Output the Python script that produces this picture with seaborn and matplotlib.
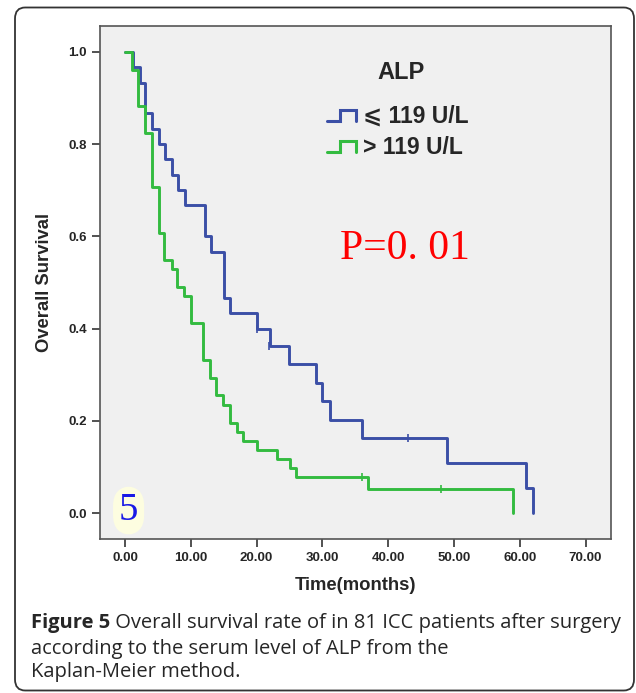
import numpy as np
import pandas as pd
import matplotlib
matplotlib.use("Agg")
import matplotlib.pyplot as plt
import seaborn as sns
from matplotlib.lines import Line2D
from matplotlib.legend_handler import HandlerBase
from matplotlib.patches import FancyBboxPatch

# Kaplan-Meier steps: time of each drop (months) and survival after it
low_time = [0, 1.2, 2.3, 3.1, 4.1, 5.1, 6.1, 7.1, 8.1, 9.1, 12.2, 13.1, 15.1, 16.0,
            20.1, 22.0, 24.9, 29.0, 30.0, 31.1, 36.0, 49.0, 61.0, 62.0]
low_surv = [1.0, 0.967, 0.933, 0.867, 0.833, 0.800, 0.767, 0.733, 0.700, 0.667, 0.600, 0.567,
            0.467, 0.433, 0.400, 0.363, 0.323, 0.283, 0.242, 0.202, 0.163, 0.109, 0.054, 0.0]
high_time = [0, 1.1, 2.0, 3.0, 4.1, 5.1, 5.9, 7.1, 7.9, 8.9, 10.0, 11.9, 12.9, 13.9, 14.9,
             16.0, 17.1, 18.0, 20.1, 23.1, 25.1, 26.0, 37.0, 59.0]
high_surv = [1.0, 0.961, 0.882, 0.824, 0.706, 0.608, 0.549, 0.529, 0.490, 0.471, 0.412, 0.333,
             0.294, 0.255, 0.235, 0.196, 0.176, 0.157, 0.137, 0.118, 0.098, 0.078, 0.052, 0.0]

# censored cases
low_cens_time = [20.0, 21.9, 43.0]
low_cens_surv = [0.400, 0.363, 0.163]
high_cens_time = [36.1, 48.0]
high_cens_surv = [0.078, 0.052]

groups = ["\u2a7d 119 U/L", "> 119 U/L"]
colors = ["#3b4fa6", "#33bb40"]
x_ticks = [0, 10, 20, 30, 40, 50, 60, 70]
y_ticks = [0.0, 0.2, 0.4, 0.6, 0.8, 1.0]

sns.set_style("ticks")
plt.rcParams["font.family"] = ["Liberation Sans", "DejaVu Sans"]

curves = pd.concat([
    pd.DataFrame({"time": low_time, "surv": low_surv, "group": groups[0]}),
    pd.DataFrame({"time": high_time, "surv": high_surv, "group": groups[1]}),
])
cens = pd.concat([
    pd.DataFrame({"time": low_cens_time, "surv": low_cens_surv, "group": groups[0]}),
    pd.DataFrame({"time": high_cens_time, "surv": high_cens_surv, "group": groups[1]}),
])
palette = dict(zip(groups, colors))


class StepHandler(HandlerBase):
    # legend key drawn as a little step, like the SPSS output
    def create_artists(self, legend, orig_handle, xdescent, ydescent, width, height, fontsize, trans):
        x0, y0 = -xdescent, -ydescent
        lo, hi = y0 + 0.1 * height, y0 + 0.8 * height
        xs = [x0, x0 + 0.45 * width, x0 + 0.45 * width, x0 + width, x0 + width]
        ys = [lo, lo, hi, hi, lo]
        ln = Line2D(xs, ys, color=orig_handle.get_color(), lw=2.2, solid_joinstyle="miter")
        ln.set_transform(trans)
        return [ln]


fig = plt.figure(figsize=(6.36, 6.93), dpi=100)
ax = fig.add_axes([100 / 636, 1 - 538.5 / 693, 510.5 / 636, 512.5 / 693])
ax.set_facecolor("#f0f0f0")

sns.lineplot(data=curves, x="time", y="surv", hue="group", palette=palette, estimator=None,
             drawstyle="steps-post", linewidth=2.1, legend=False, ax=ax)
sns.scatterplot(data=cens, x="time", y="surv", hue="group", palette=palette, marker="|",
                s=35, linewidth=1.2, legend=False, ax=ax)

ax.set_xlim(-3.8, 73.8)
ax.set_ylim(-0.055, 1.056)
ax.set_xticks(x_ticks)
ax.set_xticklabels([f"{t:.2f}" for t in x_ticks])
ax.set_yticks(y_ticks)
ax.set_yticklabels([f"{v:.1f}" for v in y_ticks])
ax.tick_params(direction="out", length=6, width=1.2, color="#333333", labelsize=9.5, pad=3.5)
for lab in ax.get_xticklabels() + ax.get_yticklabels():
    lab.set_fontweight("bold")
for sp in ax.spines.values():
    sp.set_visible(True)
    sp.set_color("#555555")
    sp.set_linewidth(1.2)

ax.set_xlabel("Time(months)", fontsize=13.3, fontweight="bold")
ax.set_ylabel("Overall Survival", fontsize=13.3, fontweight="bold")
ax.xaxis.set_label_coords(0.5, -0.075)
ax.yaxis.set_label_coords(-0.093, 0.5)

# legend: title as plain text, entries with step keys
ax.text(0.589, 0.896, "ALP", transform=ax.transAxes, ha="center", va="baseline",
        fontsize=17, fontweight="bold")
handles = [Line2D([], [], color=c) for c in colors]
leg = ax.legend(handles, groups, handler_map={Line2D: StepHandler()},
                loc="center left", bbox_to_anchor=(0.4447, 0.794), borderaxespad=0, borderpad=0,
                frameon=False, handlelength=1.25, handletextpad=0.3, labelspacing=0.35,
                prop={"weight": "bold", "size": 16.5})

ax.text(0.598, 0.545, "P=0. 01", transform=ax.transAxes, ha="center", va="baseline",
        fontsize=30, color="#ff0000", family="Liberation Serif")
ax.text(0.056, 0.036, "5", transform=ax.transAxes, ha="center", va="baseline",
        fontsize=28, color="#1a1ae6", family="Liberation Serif",
        bbox=dict(boxstyle="round,pad=0.15,rounding_size=0.5", fc="#fdfde0", ec="none"))

# caption under the chart
cap_x = 30.5 / 636
cap_font = ["Open Sans", "DejaVu Sans"]
cap_size = 14.5
t1 = fig.text(cap_x, 1 - 628 / 693, "Figure 5", fontsize=cap_size, fontweight="bold", family=cap_font)
fig.canvas.draw()
bb = t1.get_window_extent()
fig.text(bb.x1 / fig.bbox.width, 1 - 628 / 693,
         " Overall survival rate of in 81 ICC patients after surgery",
         fontsize=cap_size, family=cap_font)
fig.text(cap_x, 1 - 654 / 693, "according to the serum level of ALP from the",
         fontsize=cap_size, family=cap_font)
fig.text(cap_x, 1 - 677.5 / 693, "Kaplan-Meier method.", fontsize=cap_size, family=cap_font)

border = FancyBboxPatch((15 / 636, 2.5 / 693), 619 / 636, 683 / 693,
                        boxstyle="round,pad=0,rounding_size=0.016", transform=fig.transFigure,
                        fc="none", ec="#333333", lw=1.3, clip_on=False)
fig.add_artist(border)

fig.savefig("out.png", dpi=100)
